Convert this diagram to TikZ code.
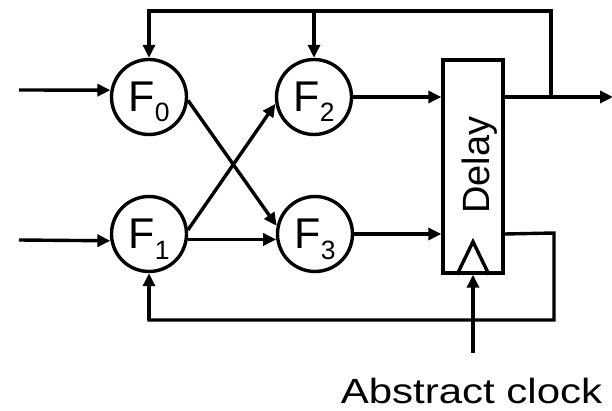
\documentclass[tikz,border=0pt]{standalone}
\usepackage{fontspec}
\setmainfont{Liberation Sans}
\usetikzlibrary{arrows.meta,calc}
\begin{document}
\begin{tikzpicture}[x=1pt,y=-1pt,
  wire/.style={line width=3.4pt},
  arr/.style={wire,-{Triangle[length=13pt,width=12pt]}},
  fnode/.style={circle,draw,line width=3.4pt,minimum size=75pt,inner sep=0pt,
    text height=30pt,text depth=0pt,font=\fontsize{43}{43}\selectfont},
  delaybox/.style={rectangle,draw,line width=3.4pt,minimum width=60pt,minimum height=213pt,inner sep=0pt}
]
\useasboundingbox (0,0) rectangle (612,411);
\newcommand{\fsub}[1]{F\raisebox{-10pt}{\fontsize{26.5}{26.5}\selectfont #1}}
\node[fnode] (F0) at (149,97) {\fsub{0}};
\node[fnode] (F1) at (149,234) {\fsub{1}};
\node[fnode] (F2) at (314,97) {\fsub{2}};
\node[fnode] (F3) at (315,234) {\fsub{3}};
\node[delaybox] (delay) at (473,166.5) {};
\node[rotate=90,anchor=base,font=\fontsize{38}{38}\selectfont] (dlabel) at (489,165) {Delay};
% clock triangle
\coordinate (tl) at ($(delay.south)+(-16,0)$);
\coordinate (tr) at ($(delay.south)+(16,0)$);
\coordinate (tt) at ($(delay.south)+(0,-33)$);
\draw[line width=3.4pt,line join=miter] (tl) -- (tt) -- (tr);
% inputs
\coordinate (in0) at (19,90);
\coordinate (in1) at (19,240);
\draw[arr] (in0) -- (F0.170);
\draw[arr] (in1) -- (F1.190);
% crossing
\draw[arr] (F0.-5) -- (F3.168);
\draw[arr] (F1.6) -- (F2.190);
\draw[arr] (F1.-8) -- (F3.188);
% to delay
\draw[arr] (F2.east) -- (F2.east -| delay.west);
\draw[arr] (F3.east) -- (F3.east -| delay.west);
% output and top feedback
\coordinate (dq) at (delay.east |- F2.east);
\coordinate (jn) at (551,97);
\coordinate (out) at (613,97);
\coordinate (topr) at (551,11);
\coordinate (topl) at (F0.north |- topr);
\coordinate (topm) at (F2.north |- topr);
\draw[arr] (dq) -- (out);
\draw[wire,line join=miter] (jn) -- (topr) -- ([xshift=-1.7pt]topl);
\draw[arr] (topl) -- (F0.north);
\draw[arr] (topm) -- (F2.north);
% bottom feedback
\coordinate (dq2) at (delay.east |- F3.east);
\coordinate (br) at (554,233);
\coordinate (bb) at (554,320);
\coordinate (bl) at (F1.south |- bb);
\draw[wire,line join=miter] (dq2) -- (br) -- (bb) -- ([xshift=-1.7pt]bl);
\draw[arr] (bl) -- (F1.south);
% clock
\coordinate (clk) at (473,353);
\draw[arr] (clk) -- (delay.south);
\node[anchor=base,font=\fontsize{35}{35}\selectfont,inner sep=0pt] (clabel) at (471.5,403) {\scalebox{1.2}[1]{Abstract clock}};
\end{tikzpicture}
\end{document}
